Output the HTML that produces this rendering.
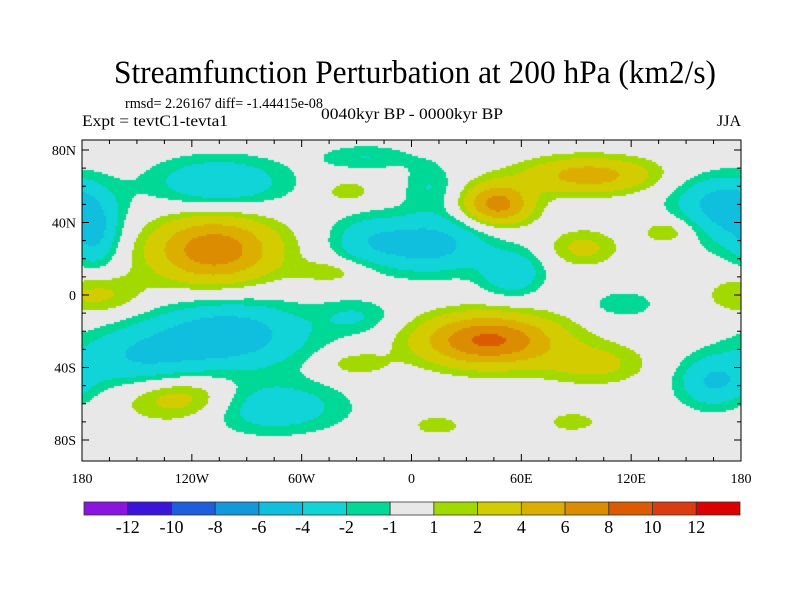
<!DOCTYPE html>
<html><head><meta charset="utf-8"><style>
body{margin:0;background:#fff;width:800px;height:600px;overflow:hidden;font-family:"Liberation Serif",serif}
#wrap{position:relative;width:800px;height:600px}
canvas{position:absolute;left:82px;top:140px}
svg{position:absolute;left:0;top:0}
</style></head><body><div id="wrap">
<canvas id="cv" width="659" height="321"></canvas>
<svg id="sv" width="800" height="600">
<text x="415" y="83" text-anchor="middle" font-size="33" textLength="602" lengthAdjust="spacingAndGlyphs">Streamfunction Perturbation at 200 hPa (km2/s)</text>
<text x="125" y="108" font-size="15" textLength="198" lengthAdjust="spacingAndGlyphs">rmsd= 2.26167 diff= -1.44415e-08</text>
<text x="82" y="126" font-size="16" textLength="146" lengthAdjust="spacingAndGlyphs">Expt = tevtC1-tevta1</text>
<text x="321" y="119" font-size="16" textLength="182" lengthAdjust="spacingAndGlyphs">0040kyr BP - 0000kyr BP</text>
<text x="741" y="126" font-size="16" text-anchor="end">JJA</text>
<g id="axes"></g>
<g id="cbar"></g>
</svg></div>
<script>
// blobs: lon, lat, amplitude, sigmaLon, sigmaLat
const blobLon=[-108,-105,178,165,-172,-100,-150,-30,-125,-77,-43,-31,-35,-25,10,55,10,47,97,94,140,116,42,100,165,14,88,-172,-25];
const blobLat=[25,62,42,52,0,-22,-35,-12,-57,-62,13,-38,57,76,28,12,60,50,66,26,35,-5,-25,-38,-48,-72,-70,30,30];
const blobAmp=[7.5,-3.8,-3.5,-3,2.5,-5.5,-3.5,-2,3.5,-3.5,1.7,1.8,1.7,-2,-5,-3.5,-2,7,5,2.5,2,-2,8.5,2.5,-4,1.7,1.7,-2.5,-2.5];
const blobSLon=[24,26,16,18,18,30,25,15,22,28,14,13,10,18,22,12,10,13,25,13,10,12,26,20,14,10,10,8,15];
const blobSLat=[13,10,14,10,8,13,12,7,9,10,5,5,5,5,11,9,10,8,7,7,5,5,10,8,10,4,4,12,10];
const levels=[-12,-10,-8,-6,-4,-2,-1,1,2,4,6,8,10,12];
const colors=["#8a14e0","#3a14d8","#1e5edc","#1498dc","#10bede","#10d4d8","#00d896","#e8e8e8","#a2da00","#d2cc00","#dcae00","#dc8c00","#dc5a00","#dc3a10","#dc0000"];
const latTicks=[80,40,0,-40,-80];const latLabels=["80N","40N","0","40S","80S"];
const lonTicks=[-180,-120,-60,0,60,120,180];const lonLabels=["180","120W","60W","0","60E","120E","180"];
const X0=82,X1=741,Y0=140,Y1=461;
const xs=lon=>X0+(lon+180)/360*(X1-X0);
const ys=lat=>295-lat*1.8125;
function field(lon,lat){let v=0;for(let i=0;i<blobLon.length;i++){let d=lon-blobLon[i];d=((d+540)%360)-180;const e=lat-blobLat[i];v+=blobAmp[i]*Math.exp(-0.5*(d*d/(blobSLon[i]**2)+e*e/(blobSLat[i]**2)));}return v;}
function colorOf(v){let k=0;while(k<levels.length&&v>=levels[k])k++;return colors[k];}
const ctx=document.getElementById('cv').getContext('2d');
for(let py=0;py<321;py+=2)for(let px=0;px<659;px+=2){const lon=(px+1)/659*360-180;const lat=(295-(Y0+py+1))/1.8125;ctx.fillStyle=colorOf(field(lon,lat));ctx.fillRect(px,py,2,2);}
const NS="http://www.w3.org/2000/svg";
function mk(t,a,p){const e=document.createElementNS(NS,t);for(const k in a)e.setAttribute(k,a[k]);p.appendChild(e);return e;}
const ax=document.getElementById('axes');
const fr=mk('rect',{x:X0,y:Y0,width:X1-X0,height:Y1-Y0,fill:'none',stroke:'#000','stroke-width':1},ax);


for(let l=-180;l<=180;l+=15){const x=xs(l),len=(l%60===0)?7:4;mk('line',{x1:x,x2:x,y1:Y1,y2:Y1-len,stroke:'#000'},ax);mk('line',{x1:x,x2:x,y1:Y0,y2:Y0+len,stroke:'#000'},ax);}
for(let l=-80;l<=80;l+=10){const y=ys(l),len=(l%40===0)?7:4;mk('line',{x1:X0,x2:X0+len,y1:y,y2:y,stroke:'#000'},ax);mk('line',{x1:X1,x2:X1-len,y1:y,y2:y,stroke:'#000'},ax);}
latTicks.forEach((l,i)=>{const t=mk('text',{x:76,y:ys(l)+5,'text-anchor':'end','font-size':14},ax);t.textContent=latLabels[i];

});
lonTicks.forEach((l,i)=>{const t=mk('text',{x:xs(l),y:483,'text-anchor':'middle','font-size':14},ax);t.textContent=lonLabels[i];

});
const cb=document.getElementById('cbar');const bx0=84,bx1=740,bw=(bx1-bx0)/colors.length;
colors.forEach((c,i)=>{const r=mk('rect',{x:bx0+i*bw,y:502,width:bw,height:13,fill:c,stroke:'#333','stroke-width':0.8},cb);

});
levels.forEach((lv,i)=>{const t=mk('text',{x:bx0+(i+1)*bw,y:533,'text-anchor':'middle','font-size':18},cb);t.textContent=lv;

});
</script></body></html>
